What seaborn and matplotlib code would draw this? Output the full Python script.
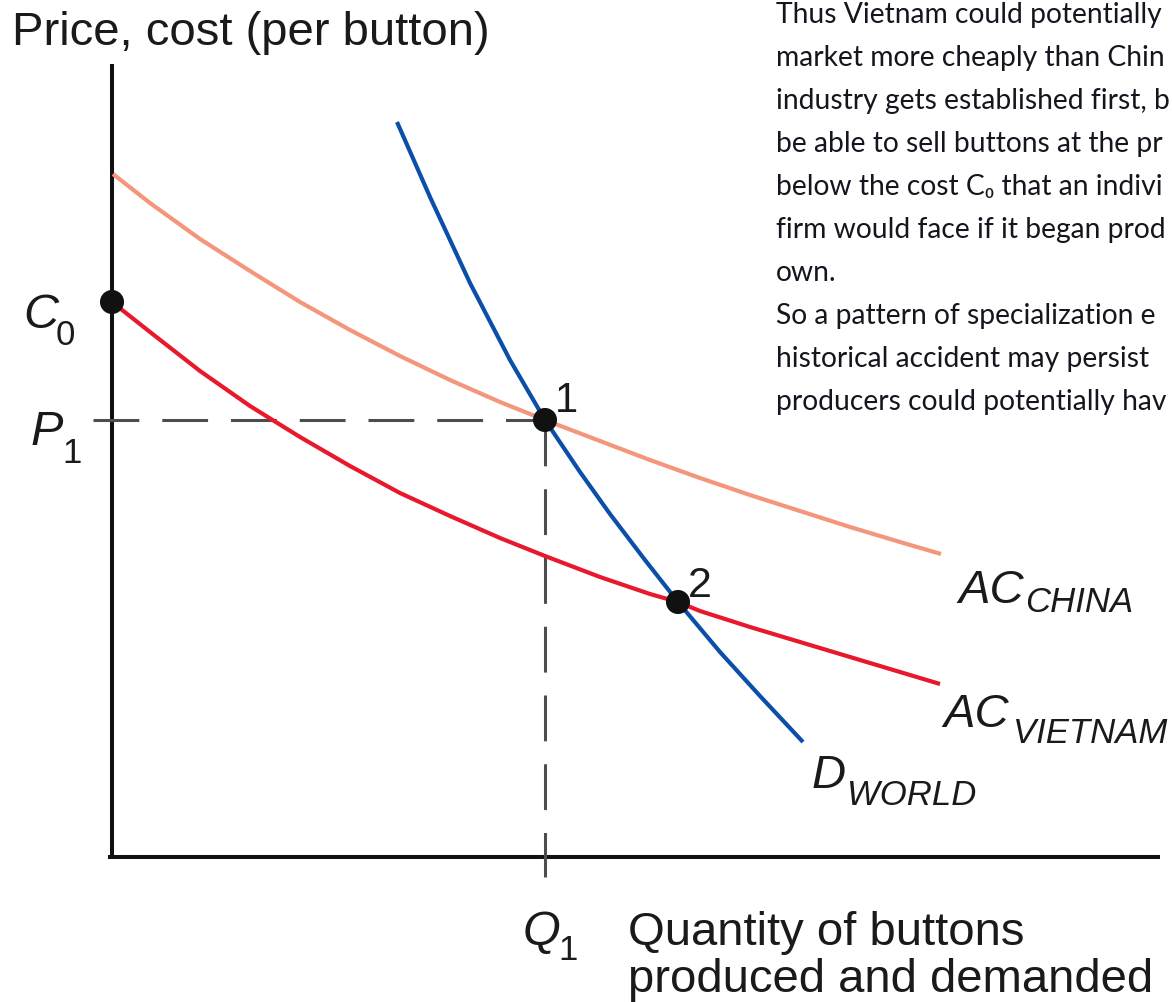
import numpy as np
import pandas as pd
import matplotlib
matplotlib.use('Agg')
import matplotlib.pyplot as plt
import seaborn as sns

# curves (quantity, price/cost)
china_q = [0.01, 0.38, 0.88, 1.38, 1.88, 2.38, 2.88, 3.38, 3.88, 4.33,
           4.88, 5.38, 5.88, 6.38, 6.88, 7.38, 7.88, 8.29]
china_c = [6.83, 6.54, 6.18, 5.86, 5.55, 5.27, 5.01, 4.77, 4.55, 4.37,
           4.16, 3.97, 3.79, 3.62, 3.46, 3.30, 3.15, 3.03]

vietnam_q = [0.00, 0.38, 0.88, 1.38, 1.88, 2.38, 2.88, 3.38, 3.88, 4.33,
             4.88, 5.38, 5.66, 5.88, 6.38, 6.88, 7.38, 7.88, 8.28]
vietnam_c = [5.55, 5.25, 4.86, 4.51, 4.20, 3.91, 3.64, 3.41, 3.19, 3.01,
             2.80, 2.63, 2.55, 2.46, 2.30, 2.15, 2.00, 1.85, 1.73]

demand_q = [2.85, 3.18, 3.58, 3.98, 4.33, 4.68, 4.98, 5.33, 5.66, 6.08, 6.48, 6.91]
demand_p = [7.35, 6.60, 5.74, 4.97, 4.37, 3.85, 3.43, 2.97, 2.55, 2.05, 1.61, 1.15]

# marked points: C0, equilibrium 1, equilibrium 2
point_q = [0.00, 4.33, 5.66]
point_p = [5.55, 4.37, 2.55]

Q1 = 4.33
P1 = 4.37

note_lines = [
    "Thus Vietnam could potentially",
    "market more cheaply than Chin",
    "industry gets established first, b",
    "be able to sell buttons at the pr",
    "below the cost C\u2080 that an indivi",
    "firm would face if it began prod",
    "own.",
    "So a pattern of specialization e",
    "historical accident may persist",
    "producers could potentially hav",
]

sns.set_style('white')
plt.rcParams['font.family'] = ['Liberation Sans', 'DejaVu Sans']

fig = plt.figure(figsize=(11.72, 10.03), dpi=100)
ax = fig.add_axes([0, 0, 1, 1])
ax.set_xlim(-1.12, 10.60)
ax.set_ylim(-1.45, 8.58)
ax.axis('off')

# axes drawn by hand
ax.plot([0, 0], [-0.02, 7.93], color='#111111', lw=2.9, solid_capstyle='butt')
ax.plot([-0.04, 10.48], [0, 0], color='#111111', lw=2.9, solid_capstyle='butt')

# dashed guides
ax.plot([-0.19, Q1], [P1, P1], color='#4d4d4d', lw=2.2, dashes=(15, 7.5))
ax.plot([Q1, Q1], [P1, -0.20], color='#4d4d4d', lw=2.2, dashes=(15, 7.5))

china = pd.DataFrame({'q': china_q, 'c': china_c})
vietnam = pd.DataFrame({'q': vietnam_q, 'c': vietnam_c})
demand = pd.DataFrame({'q': demand_q, 'p': demand_p})

line_kw = dict(sort=False, estimator=None, lw=3.0, ax=ax,
               solid_joinstyle='round', solid_capstyle='butt')
sns.lineplot(data=china, x='q', y='c', color='#f4967b', **line_kw)
sns.lineplot(data=vietnam, x='q', y='c', color='#e8192c', **line_kw)
sns.lineplot(data=demand, x='q', y='p', color='#0b4fa8', **line_kw)

pts = pd.DataFrame({'q': point_q, 'p': point_p})
sns.scatterplot(data=pts, x='q', y='p', s=300, color='#111111',
                edgecolor='none', ax=ax, zorder=5)
ax.set_xlabel('')
ax.set_ylabel('')

lab = dict(color='#1a1a1a', va='baseline', ha='left')
ital = dict(lab, fontstyle='italic')

ax.text(-1.00, 8.13, 'Price, cost (per button)', fontsize=34, **lab)
ax.text(5.16, -0.87, 'Quantity of buttons', fontsize=34, **lab)
ax.text(5.16, -1.34, 'produced and demanded', fontsize=34, **lab)

# axis point labels with subscripts
ax.text(-0.89, 5.30, 'C', fontsize=35, **ital)
ax.text(-0.56, 5.13, '0', fontsize=25, **lab)
ax.text(-0.82, 4.13, 'P', fontsize=35, **ital)
ax.text(-0.50, 3.95, '1', fontsize=25, **lab)
ax.text(4.11, -0.87, 'Q', fontsize=35, **ital)
ax.text(4.46, -1.02, '1', fontsize=25, **lab)

ax.text(4.43, 4.46, '1', fontsize=30, **lab)
ax.text(5.76, 2.61, '2', fontsize=31, **lab)

# curve labels
ax.text(8.46, 2.55, 'AC', fontsize=34, **ital)
ax.text(9.13, 2.46, 'CHINA', fontsize=25, **ital)
ax.text(8.31, 1.31, 'AC', fontsize=34, **ital)
ax.text(9.01, 1.15, 'VIETNAM', fontsize=25, **ital)
ax.text(7.00, 0.70, 'D', fontsize=34, **ital)
ax.text(7.35, 0.53, 'WORLD', fontsize=25, **ital)

# explanatory note, running up to the right edge like the source image
for i, line in enumerate(note_lines):
    ax.text(6.64, 8.35 - 0.43 * i, line, fontsize=20.3, color='#15151f',
            va='baseline', ha='left', family=['Lato', 'DejaVu Sans'],
            clip_on=True)

plt.savefig('out.png', dpi=100)
